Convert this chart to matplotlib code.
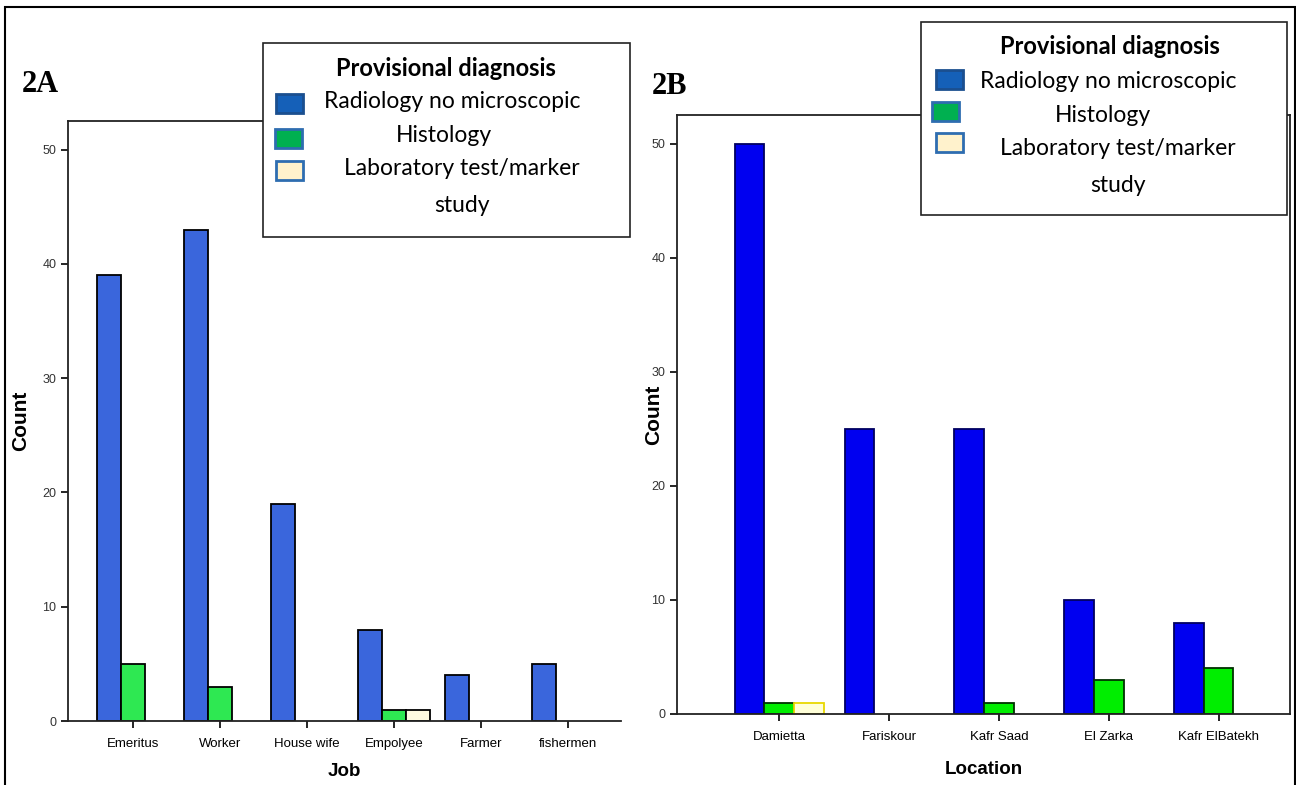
import matplotlib
matplotlib.use('Agg')
import matplotlib.pyplot as plt
from matplotlib.patches import Rectangle
import numpy as np

# Data
jobs = ['Emeritus', 'Worker', 'House wife', 'Empolyee', 'Farmer', 'fishermen']
job_radiology = [39, 43, 19, 8, 4, 5]
job_histology = [5, 3, 0, 1, 0, 0]
job_lab = [0, 0, 0, 1, 0, 0]

locations = ['Damietta', 'Fariskour', 'Kafr Saad', 'El Zarka', 'Kafr ElBatekh']
loc_radiology = [50, 25, 25, 10, 8]
loc_histology = [1, 0, 1, 3, 4]
loc_lab = [1, 0, 0, 0, 0]

series_names = ['Radiology no microscopic', 'Histology', 'Laboratory test/marker\nstudy']
yticks = [0, 10, 20, 30, 40, 50]

W, H = 1296, 785
fig = plt.figure(figsize=(W / 100, H / 100), dpi=100)


def rect(x0, y0, x1, y1):
    # pixel box -> figure fraction
    return [x0 / W, 1 - y1 / H, (x1 - x0) / W, (y1 - y0) / H]


def px(x, y):
    return x / W, 1 - y / H


# outer border (bottom edge runs off the picture)
fig.patches.append(Rectangle(px(5, 800), 1290 / W, 793 / H, transform=fig.transFigure,
                             fill=False, edgecolor='black', linewidth=1.5))


def bar_panel(ax, cats, vals, colors, edges, width, xlim, xlabel, right_spine, ylab_x, xlab_y):
    x = np.arange(len(cats))
    for i, (v, c, e) in enumerate(zip(vals, colors, edges)):
        v = np.array(v)
        keep = v > 0
        ax.bar(x[keep] + (i - 1) * width, v[keep], width, color=c, edgecolor=e, linewidth=1.3)
    ax.set_xlim(*xlim)
    ax.set_ylim(0, 52.5)
    ax.set_xticks(x)
    ax.set_xticklabels(cats, fontsize=9.5, family='Liberation Sans')
    ax.set_yticks(yticks)
    ax.set_yticklabels([str(t) for t in yticks], fontsize=9, family='Liberation Sans', color='#333333')
    ax.tick_params(axis='both', direction='out', length=5, width=1.2)
    ax.tick_params(axis='x', pad=7)
    ax.spines['right'].set_visible(right_spine)
    for s in ax.spines.values():
        s.set_linewidth(1.3)
        s.set_color('#222222')
    ax.set_xlabel(xlabel, fontsize=13.5, fontweight='bold', family='Liberation Sans', va='center')
    ax.xaxis.set_label_coords(0.5, xlab_y)
    ax.set_ylabel('Count', fontsize=15, fontweight='bold', family='Liberation Sans')
    ax.yaxis.set_label_coords(ylab_x, 0.5)


# Panel 2A
axA = fig.add_axes(rect(68, 121, 621, 721))
bar_panel(axA, jobs, [job_radiology, job_histology, job_lab],
          ['#3a66dc', '#2ee852', '#fffbe0'], ['black', 'black', 'black'],
          0.276, (-0.75, 5.61), 'Job', False, -0.069, -0.085)

# Panel 2B
axB = fig.add_axes(rect(677, 115, 1290, 714))
bar_panel(axB, locations, [loc_radiology, loc_histology, loc_lab],
          ['#0000f0', '#00ee00', '#ffffd8'], ['#000060', '#003000', '#e8d800'],
          0.27, (-0.93, 4.65), 'Location', True, -0.023, -0.093)

fig.text(*px(22, 84), '2A', fontsize=22, fontweight='bold', family='Liberation Serif', va='center')
fig.text(*px(652, 86), '2B', fontsize=22, fontweight='bold', family='Liberation Serif', va='center')


def legend_box(x0, y0, x1, y1, title_xy, items):
    fig.patches.append(Rectangle(px(x0, y1), (x1 - x0) / W, (y1 - y0) / H, transform=fig.transFigure,
                                 facecolor='white', edgecolor='#222222', linewidth=1.2, zorder=5))
    fig.text(*px(*title_xy), 'Provisional diagnosis', fontsize=17, fontweight='bold',
             family='Lato', ha='center', va='center', zorder=6)
    for (sx, sy, fc, ec), (lx, ly), name in items:
        fig.patches.append(Rectangle(px(sx, sy + 19), 27 / W, 19 / H, transform=fig.transFigure,
                                     facecolor=fc, edgecolor=ec, linewidth=2, zorder=6))
        fig.text(*px(lx, ly), name, fontsize=16.5, family='Lato', ha='center', va='center',
                 linespacing=1.95, zorder=6)


sw_cols = [('#1560b8', '#1b4f8f'), ('#00b050', '#2e6db0'), ('#fff2cc', '#2e6db0')]

legend_box(263, 43, 630, 237, (446, 68),
           [((276, 94) + sw_cols[0], (452, 102), series_names[0]),
            ((275, 129) + sw_cols[1], (444, 136), series_names[1]),
            ((276, 161) + sw_cols[2], (462, 187), series_names[2])])

legend_box(921, 22, 1287, 215, (1110, 47),
           [((936, 70) + sw_cols[0], (1108, 82), series_names[0]),
            ((932, 102) + sw_cols[1], (1103, 116), series_names[1]),
            ((936, 133) + sw_cols[2], (1118, 167), series_names[2])])

fig.savefig('out.png', dpi=100)
